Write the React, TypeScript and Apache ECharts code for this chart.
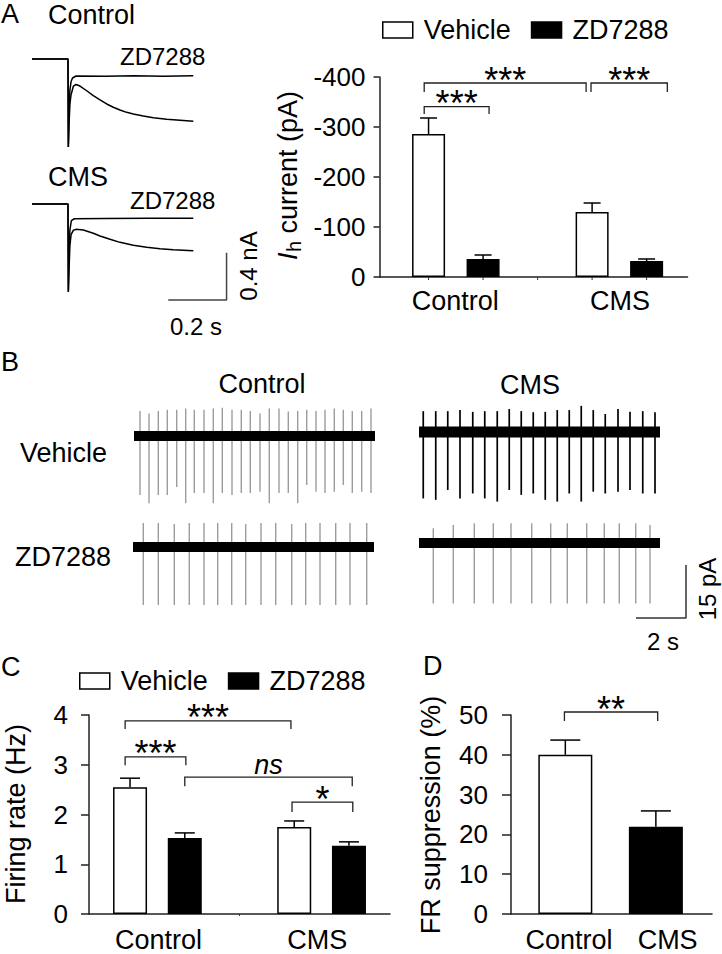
import React, { useEffect, useRef } from "react";
import * as echarts from "echarts";

const FONT = "'Liberation Sans', Arial, Helvetica, sans-serif";

// ---------------- Panel A: Ih traces (time in ms, current in nA relative to holding) ----------------
const traceCtrlVehicle: number[][] = [
  [0, 0], [123.4, 0], [124.6, -0.746], [127, -0.55], [130, -0.38], [133.7, -0.305], [142, -0.229], [150.8, -0.216],
  [164.6, -0.229], [187.5, -0.269], [210.2, -0.311], [233.1, -0.347], [256.1, -0.381], [278.7, -0.409],
  [301.7, -0.432], [324.6, -0.452], [347.3, -0.466], [381.6, -0.483], [415.8, -0.497], [461.8, -0.511],
  [507.4, -0.519], [553, -0.528],
];
const traceCtrlZd: number[][] = [
  [0, 0], [123.4, 0], [124.6, -0.746], [127, -0.45], [130, -0.263], [134, -0.19], [139, -0.161], [151, -0.144],
  [250, -0.146], [350, -0.143], [450, -0.146], [553, -0.143],
];
const traceCmsVehicle: number[][] = [
  [0, 0], [123.4, 0], [124.6, -0.743], [127, -0.55], [130, -0.35], [134, -0.26], [142, -0.222], [150.8, -0.215],
  [175.9, -0.22], [210.2, -0.248], [233.1, -0.271], [267.4, -0.299], [301.7, -0.325], [347.3, -0.35],
  [393.2, -0.367], [438.8, -0.379], [484.4, -0.387], [553, -0.396],
];
const traceCmsZd: number[][] = [
  [0, 0], [123.4, 0], [124.6, -0.743], [127, -0.4], [130, -0.22], [135, -0.14], [145, -0.125],
  [250, -0.122], [400, -0.121], [553, -0.12],
];
const traceScaleBar: number[][] = [[467, -0.814], [667, -0.814], [667, -0.414]]; // 0.2 s, 0.4 nA

// ---------------- Panel A: Ih bar chart ----------------
const groupNames = ["Control", "CMS"];
const ihVehicle = [-286, -130];
const ihVehicleSem = [32, 18];
const ihZd = [-36, -32];
const ihZdSem = [8, 4];
const ihBrackets: number[][] = [
  [0.92, 3.89, -388, -370],
  [3.98, 5.38, -388, -370],
  [0.92, 2.11, -340.6, -326],
];
const ihBracketLabels = ["***", "***", "***"];

// ---------------- Panel B: spike trains (time s, amplitude pA) ----------------
const traceDuration = 9.64;
const ctrlVehicleSpikeT = [0.24, 0.6, 0.97, 1.33, 1.71, 2.07, 2.41, 2.8, 3.17, 3.53, 3.92, 4.29, 4.65, 5.04, 5.41, 5.8, 6.17, 6.55, 6.91, 7.28, 7.64, 8.01, 8.37, 8.73, 9.11, 9.48];
const ctrlVehicleSpikeUp = [7.1, 6.4, 7.1, 7.4, 7.4, 7.8, 7.4, 7.4, 7.8, 8.0, 7.4, 7.4, 7.1, 6.4, 7.8, 7.8, 6.9, 7.1, 7.4, 7.1, 7.4, 7.8, 7.4, 7.1, 7.1, 7.8];
const ctrlVehicleSpikeDown = [16.7, 19.0, 16.7, 16.7, 14.4, 19.0, 16.1, 16.1, 19.0, 16.1, 16.7, 16.1, 16.1, 15.8, 19.0, 16.1, 16.1, 19.0, 13.9, 15.8, 16.1, 15.8, 13.9, 16.1, 15.8, 16.1];

const cmsVehicleSpikeT = [0.17, 0.67, 1.15, 1.64, 2.15, 2.63, 3.13, 3.61, 4.09, 4.57, 5.05, 5.53, 6.01, 6.49, 6.97, 7.45, 7.96, 8.44, 8.95, 9.44];
const cmsVehicleSpikeUp = [5.9, 5.9, 5.9, 6.2, 5.7, 5.9, 5.9, 6.5, 5.9, 5.6, 5.7, 6.2, 6.2, 7.4, 6.2, 5.1, 6.5, 5.7, 5.9, 5.6];
const cmsVehicleSpikeDown = [18.8, 19.2, 16.4, 18.8, 17.4, 18.8, 19.7, 16.4, 17.8, 17.4, 19.2, 19.7, 17.4, 19.7, 16.9, 17.4, 16.9, 16.4, 17.4, 17.4];

const ctrlZdSpikeT = [0.41, 1.01, 1.65, 2.25, 2.84, 3.39, 3.95, 4.51, 5.12, 5.71, 6.35, 6.91, 7.48, 8.11, 8.68, 9.35];
const ctrlZdSpikeUp = [6.8, 6.8, 6.5, 6.8, 6.8, 6.8, 6.8, 6.5, 6.8, 6.8, 6.5, 6.8, 6.8, 6.8, 6.8, 6.8];
const ctrlZdSpikeDown = [16.4, 16.4, 16.4, 16.4, 16.4, 16.4, 16.4, 16.4, 16.4, 16.4, 16.4, 16.4, 16.4, 16.4, 16.4, 16.4];

const cmsZdSpikeT = [0.57, 1.37, 2.21, 2.97, 3.68, 4.51, 5.27, 5.93, 6.71, 7.41, 8.01, 8.67, 9.24];
const cmsZdSpikeUp = [4.2, 5.1, 5.6, 5.6, 5.6, 5.6, 5.6, 5.6, 5.6, 5.6, 5.6, 5.6, 5.1];
const cmsZdSpikeDown = [17.1, 17.1, 17.1, 17.1, 17.1, 17.1, 17.1, 17.1, 17.1, 17.1, 17.1, 17.1, 17.1];

const spikeScaleBar: number[][] = [[8.68, -21.2], [10.68, -21.2], [10.68, -6.2]]; // 2 s, 15 pA

// ---------------- Panel C: firing rate ----------------
const frVehicle = [2.55, 1.75];
const frVehicleSem = [0.18, 0.12];
const frZd = [1.53, 1.37];
const frZdSem = [0.1, 0.08];
const frBrackets: number[][] = [
  [0.91, 3.94, 3.88, 3.72],
  [0.91, 2.02, 3.16, 2.99],
  [2.0, 5.06, 2.75, 2.57],
  [3.96, 5.07, 2.25, 2.05],
];
const frBracketLabels = ["***", "***", "ns", "*"];

// ---------------- Panel D: FR suppression ----------------
const suppression = [40.0, 21.9];
const suppressionSem = [3.7, 4.0];
const supBrackets: number[][] = [[0.99, 2.02, 50.75, 48.5]];
const supBracketLabels = ["**"];

// ------------------------------------------------------------------
const lineEl = (x1: number, y1: number, x2: number, y2: number, stroke: string, lineWidth: number) => ({
  type: "line",
  shape: { x1, y1, x2, y2 },
  style: { stroke, lineWidth },
});

const txt = (text: string, x: number, y: number, size: number, align = "left", extra: any = {}) => ({
  type: "text",
  x,
  y,
  silent: true,
  style: {
    text,
    fill: "#000",
    fontSize: size,
    fontFamily: FONT,
    align,
    textAlign: align,
    verticalAlign: "middle",
    textVerticalAlign: "middle",
    ...extra,
  },
});

function errSeries(ai: number, points: number[][], capHalf: number) {
  return {
    type: "custom",
    xAxisIndex: ai,
    yAxisIndex: ai,
    silent: true,
    z: 4,
    data: points,
    renderItem: (_p: any, api: any) => {
      const x = api.value(0);
      const y = api.value(1);
      const e = api.value(2);
      const tip = y + (y < 0 ? -e : e);
      const a = api.coord([x, y]);
      const b = api.coord([x, tip]);
      return {
        type: "group",
        children: [
          lineEl(a[0], a[1], b[0], b[1], "#000", 1.5),
          lineEl(b[0] - capHalf, b[1], b[0] + capHalf, b[1], "#000", 1.5),
        ],
      };
    },
  };
}

function bracketSeries(ai: number, rows: number[][], labels: string[]) {
  return {
    type: "custom",
    xAxisIndex: ai,
    yAxisIndex: ai,
    silent: true,
    z: 4,
    data: rows,
    renderItem: (p: any, api: any) => {
      const x1 = api.value(0), x2 = api.value(1), yl = api.value(2), yg = api.value(3);
      const a = api.coord([x1, yg]);
      const b = api.coord([x1, yl]);
      const c = api.coord([x2, yl]);
      const d = api.coord([x2, yg]);
      const label = labels[p.dataIndex];
      const isNs = label === "ns";
      return {
        type: "group",
        children: [
          { type: "polyline", shape: { points: [a, b, c, d] }, style: { stroke: "#222", lineWidth: 1.3, fill: "none" } },
          txt(label, (b[0] + c[0]) / 2, b[1] - (isNs ? 12 : 3), isNs ? 27 : 36, "center", isNs ? { fontStyle: "italic" } : {}),
        ],
      };
    },
  };
}

function catLabelSeries(ai: number, positions: number[], offset: number) {
  return {
    type: "custom",
    xAxisIndex: ai,
    yAxisIndex: ai,
    silent: true,
    data: positions.map((x) => [x, 0]),
    renderItem: (p: any, api: any) => {
      const c = api.coord([api.value(0), 0]);
      return txt(groupNames[p.dataIndex], c[0], c[1] + offset, 27, "center");
    },
  };
}

function tickSeries(ai: number, positions: number[], len: number) {
  return {
    type: "custom",
    xAxisIndex: ai,
    yAxisIndex: ai,
    silent: true,
    data: positions.map((x) => [x, 0]),
    renderItem: (_p: any, api: any) => {
      const c = api.coord([api.value(0), 0]);
      return lineEl(c[0], c[1], c[0], c[1] + len, "#333", 1);
    },
  };
}

function spikeSeries(ai: number, t: number[], up: number[], down: number[], color: string, width: number) {
  return {
    type: "custom",
    xAxisIndex: ai,
    yAxisIndex: ai,
    silent: true,
    data: t.map((v, k) => [v, up[k], -down[k]]),
    renderItem: (_p: any, api: any) => {
      const a = api.coord([api.value(0), api.value(1)]);
      const b = api.coord([api.value(0), api.value(2)]);
      return lineEl(a[0], a[1], b[0], b[1], color, width);
    },
  };
}

const hiddenAxis = (gridIndex: number, min: number, max: number) => ({
  type: "value",
  gridIndex,
  min,
  max,
  show: false,
  splitLine: { show: false },
});

const axisLineStyle = { show: true, onZero: false, lineStyle: { color: "#222", width: 1.5 } };

function buildOption() {
  // B trace grids: 25 px/s, 3.533 px/pA
  const pxS = 25;
  const pxPA = 3.533;
  const bGrid = (left: number, baseline: number) => ({
    left,
    top: baseline - 8 * pxPA,
    width: 11 * pxS,
    height: 30 * pxPA,
  });
  // A trace grids: 0.2917 px/ms, 118 px/nA
  const aGrid = (baseline: number) => ({ left: 32, top: baseline - 0.1 * 118, width: 700 * 0.2917, height: 118 });

  const grid = [
    aGrid(59),
    aGrid(204),
    { left: 379.5, top: 77, width: 308, height: 200 },
    bGrid(134, 436),
    bGrid(419, 432),
    bGrid(133, 547),
    bGrid(419, 543),
    { left: 89, top: 715, width: 301, height: 199 },
    { left: 511, top: 715, width: 201, height: 199 },
  ];

  const barX = (gi: number, min: number, max: number) => ({
    type: "value",
    gridIndex: gi,
    min,
    max,
    axisLine: axisLineStyle,
    axisTick: { show: false },
    axisLabel: { show: false },
    splitLine: { show: false },
  });
  const barY = (gi: number, min: number, max: number, interval: number, tickLen: number, margin: number, inverse = false) => ({
    type: "value",
    gridIndex: gi,
    min,
    max,
    interval,
    inverse,
    axisLine: axisLineStyle,
    axisTick: { show: true, length: tickLen, lineStyle: { color: "#222", width: 1.5 } },
    axisLabel: { color: "#000", fontSize: 26, fontFamily: FONT, margin },
    splitLine: { show: false },
  });

  const xAxis = [
    hiddenAxis(0, 0, 700),
    hiddenAxis(1, 0, 700),
    barX(2, 0.1, 5.75),
    hiddenAxis(3, 0, 11),
    hiddenAxis(4, 0, 11),
    hiddenAxis(5, 0, 11),
    hiddenAxis(6, 0, 11),
    barX(7, 0.25, 5.75),
    barX(8, 0.4, 2.62),
  ];
  const yAxis = [
    hiddenAxis(0, -0.9, 0.1),
    hiddenAxis(1, -0.9, 0.1),
    barY(2, -400, 0, 100, 6, 14, true),
    hiddenAxis(3, -22, 8),
    hiddenAxis(4, -22, 8),
    hiddenAxis(5, -22, 8),
    hiddenAxis(6, -22, 8),
    barY(7, 0, 4, 1, 8, 21),
    barY(8, 0, 50, 10, 9, 23),
  ];

  const traceLine = (ai: number, data: number[][], color = "#000", width = 1.5) => ({
    type: "line",
    xAxisIndex: ai,
    yAxisIndex: ai,
    data,
    symbol: "none",
    silent: true,
    lineStyle: { color, width },
  });

  const whiteBar = { color: "#fff", borderColor: "#000", borderWidth: 1.5 };
  const blackBar = { color: "#000", borderColor: "#000", borderWidth: 1.5 };

  const series: any[] = [
    traceLine(0, traceCtrlVehicle),
    traceLine(0, traceCtrlZd),
    traceLine(1, traceCmsVehicle),
    traceLine(1, traceCmsZd),
    traceLine(1, traceScaleBar, "#444", 1.5),

    // A bars
    { type: "bar", name: "Vehicle", xAxisIndex: 2, yAxisIndex: 2, barWidth: 33, barGap: "-100%", silent: true,
      data: [[1, ihVehicle[0]], [4, ihVehicle[1]]], itemStyle: whiteBar },
    { type: "bar", name: "ZD7288", xAxisIndex: 2, yAxisIndex: 2, barWidth: 33, barGap: "-100%", silent: true,
      data: [[2, ihZd[0]], [5, ihZd[1]]], itemStyle: blackBar },
    errSeries(2, [[1, ihVehicle[0], ihVehicleSem[0]], [4, ihVehicle[1], ihVehicleSem[1]], [2, ihZd[0], ihZdSem[0]], [5, ihZd[1], ihZdSem[1]]], 8.5),
    bracketSeries(2, ihBrackets, ihBracketLabels),
    catLabelSeries(2, [1.49, 4.51], 24),
    tickSeries(2, [1, 2, 3, 4, 5], 3),

    // B traces
    spikeSeries(3, ctrlVehicleSpikeT, ctrlVehicleSpikeUp, ctrlVehicleSpikeDown, "#8c8c8c", 1.2),
    traceLine(3, [[0, 0], [traceDuration, 0]], "#000", 10),
    spikeSeries(4, cmsVehicleSpikeT, cmsVehicleSpikeUp, cmsVehicleSpikeDown, "#000", 1.7),
    traceLine(4, [[0, 0], [traceDuration, 0]], "#000", 11),
    spikeSeries(5, ctrlZdSpikeT, ctrlZdSpikeUp, ctrlZdSpikeDown, "#8c8c8c", 1.2),
    traceLine(5, [[0, 0], [traceDuration, 0]], "#000", 10),
    spikeSeries(6, cmsZdSpikeT, cmsZdSpikeUp, cmsZdSpikeDown, "#8c8c8c", 1.2),
    traceLine(6, [[0, 0], [traceDuration, 0]], "#000", 10),
    traceLine(6, spikeScaleBar, "#333", 1.5),

    // C bars
    { type: "bar", name: "Vehicle", xAxisIndex: 7, yAxisIndex: 7, barWidth: 34, barGap: "-100%", silent: true,
      data: [[1, frVehicle[0]], [4, frVehicle[1]]], itemStyle: whiteBar },
    { type: "bar", name: "ZD7288", xAxisIndex: 7, yAxisIndex: 7, barWidth: 34, barGap: "-100%", silent: true,
      data: [[2, frZd[0]], [5, frZd[1]]], itemStyle: blackBar },
    errSeries(7, [[1, frVehicle[0], frVehicleSem[0]], [4, frVehicle[1], frVehicleSem[1]], [2, frZd[0], frZdSem[0]], [5, frZd[1], frZdSem[1]]], 10),
    bracketSeries(7, frBrackets, frBracketLabels),
    catLabelSeries(7, [1.52, 4.42], 26),
    tickSeries(7, [3], 2),

    // D bars
    { type: "bar", name: "Control", xAxisIndex: 8, yAxisIndex: 8, barWidth: 54, barGap: "-100%", silent: true,
      data: [[1, suppression[0]]], itemStyle: whiteBar },
    { type: "bar", name: "CMS", xAxisIndex: 8, yAxisIndex: 8, barWidth: 54, barGap: "-100%", silent: true,
      data: [[2, suppression[1]]], itemStyle: blackBar },
    errSeries(8, [[1, suppression[0], suppressionSem[0]], [2, suppression[1], suppressionSem[1]]], 15),
    bracketSeries(8, supBrackets, supBracketLabels),
    catLabelSeries(8, [1.04, 2.13], 26),
  ];

  const legendBase = (left: number, top: number) => ({
    left,
    top,
    orient: "horizontal",
    icon: "rect",
    itemWidth: 30,
    itemHeight: 16,
    itemGap: 20,
    selectedMode: false,
    textStyle: { fontSize: 27, fontFamily: FONT, color: "#000", padding: [0, 0, 0, 6] },
    data: [
      { name: "Vehicle", itemStyle: { color: "#fff", borderColor: "#000", borderWidth: 1.5 } },
      { name: "ZD7288", itemStyle: { color: "#000", borderColor: "#000", borderWidth: 1.5 } },
    ],
  });

  const rotated = (x: number, y: number, children: any[]) => ({ type: "group", x, y, rotation: Math.PI / 2, children });

  const graphic = [
    txt("A", 1, 14, 27),
    txt("Control", 48, 15, 27),
    txt("ZD7288", 120, 56.7, 24),
    txt("CMS", 48, 176.7, 27),
    txt("ZD7288", 130, 200, 24),
    rotated(248, 266, [txt("0.4 nA", 0, 0, 24, "center")]),
    txt("0.2 s", 196, 326, 24, "center"),
    rotated(288, 176, [
      txt("I", -84, 0, 27, "left", { fontStyle: "italic" }),
      txt("h", -76, 6, 20, "left"),
      txt(" current (pA)", -65, 0, 27, "left"),
    ]),
    txt("B", 1, 362, 27),
    txt("Control", 262, 384, 27, "center"),
    txt("CMS", 530, 385, 27, "center"),
    txt("Vehicle", 20, 453, 27),
    txt("ZD7288", 15, 557, 27),
    rotated(707, 589, [txt("15 pA", 0, 0, 24, "center")]),
    txt("2 s", 663, 641, 24, "center"),
    txt("C", 1, 667, 27),
    txt("D", 423, 666, 27),
    rotated(16, 814, [txt("Firing rate (Hz)", 0, 0, 27, "center")]),
    rotated(431, 815, [txt("FR suppression (%)", 0, 0, 27, "center")]),
  ];

  return {
    animation: false,
    backgroundColor: "#fff",
    grid,
    xAxis,
    yAxis,
    legend: [legendBase(377, 11.5), legendBase(74, 662.5)],
    series,
    graphic,
  };
}

export default function App() {
  const ref = useRef<HTMLDivElement>(null);
  useEffect(() => {
    document.body.style.margin = "0";
    if (!ref.current) return;
    const chart = echarts.init(ref.current, undefined, { renderer: "svg" });
    chart.setOption(buildOption() as any);
    return () => chart.dispose();
  }, []);
  return <div ref={ref} style={{ position: "absolute", left: 0, top: 0, width: 722, height: 954 }} />;
}
